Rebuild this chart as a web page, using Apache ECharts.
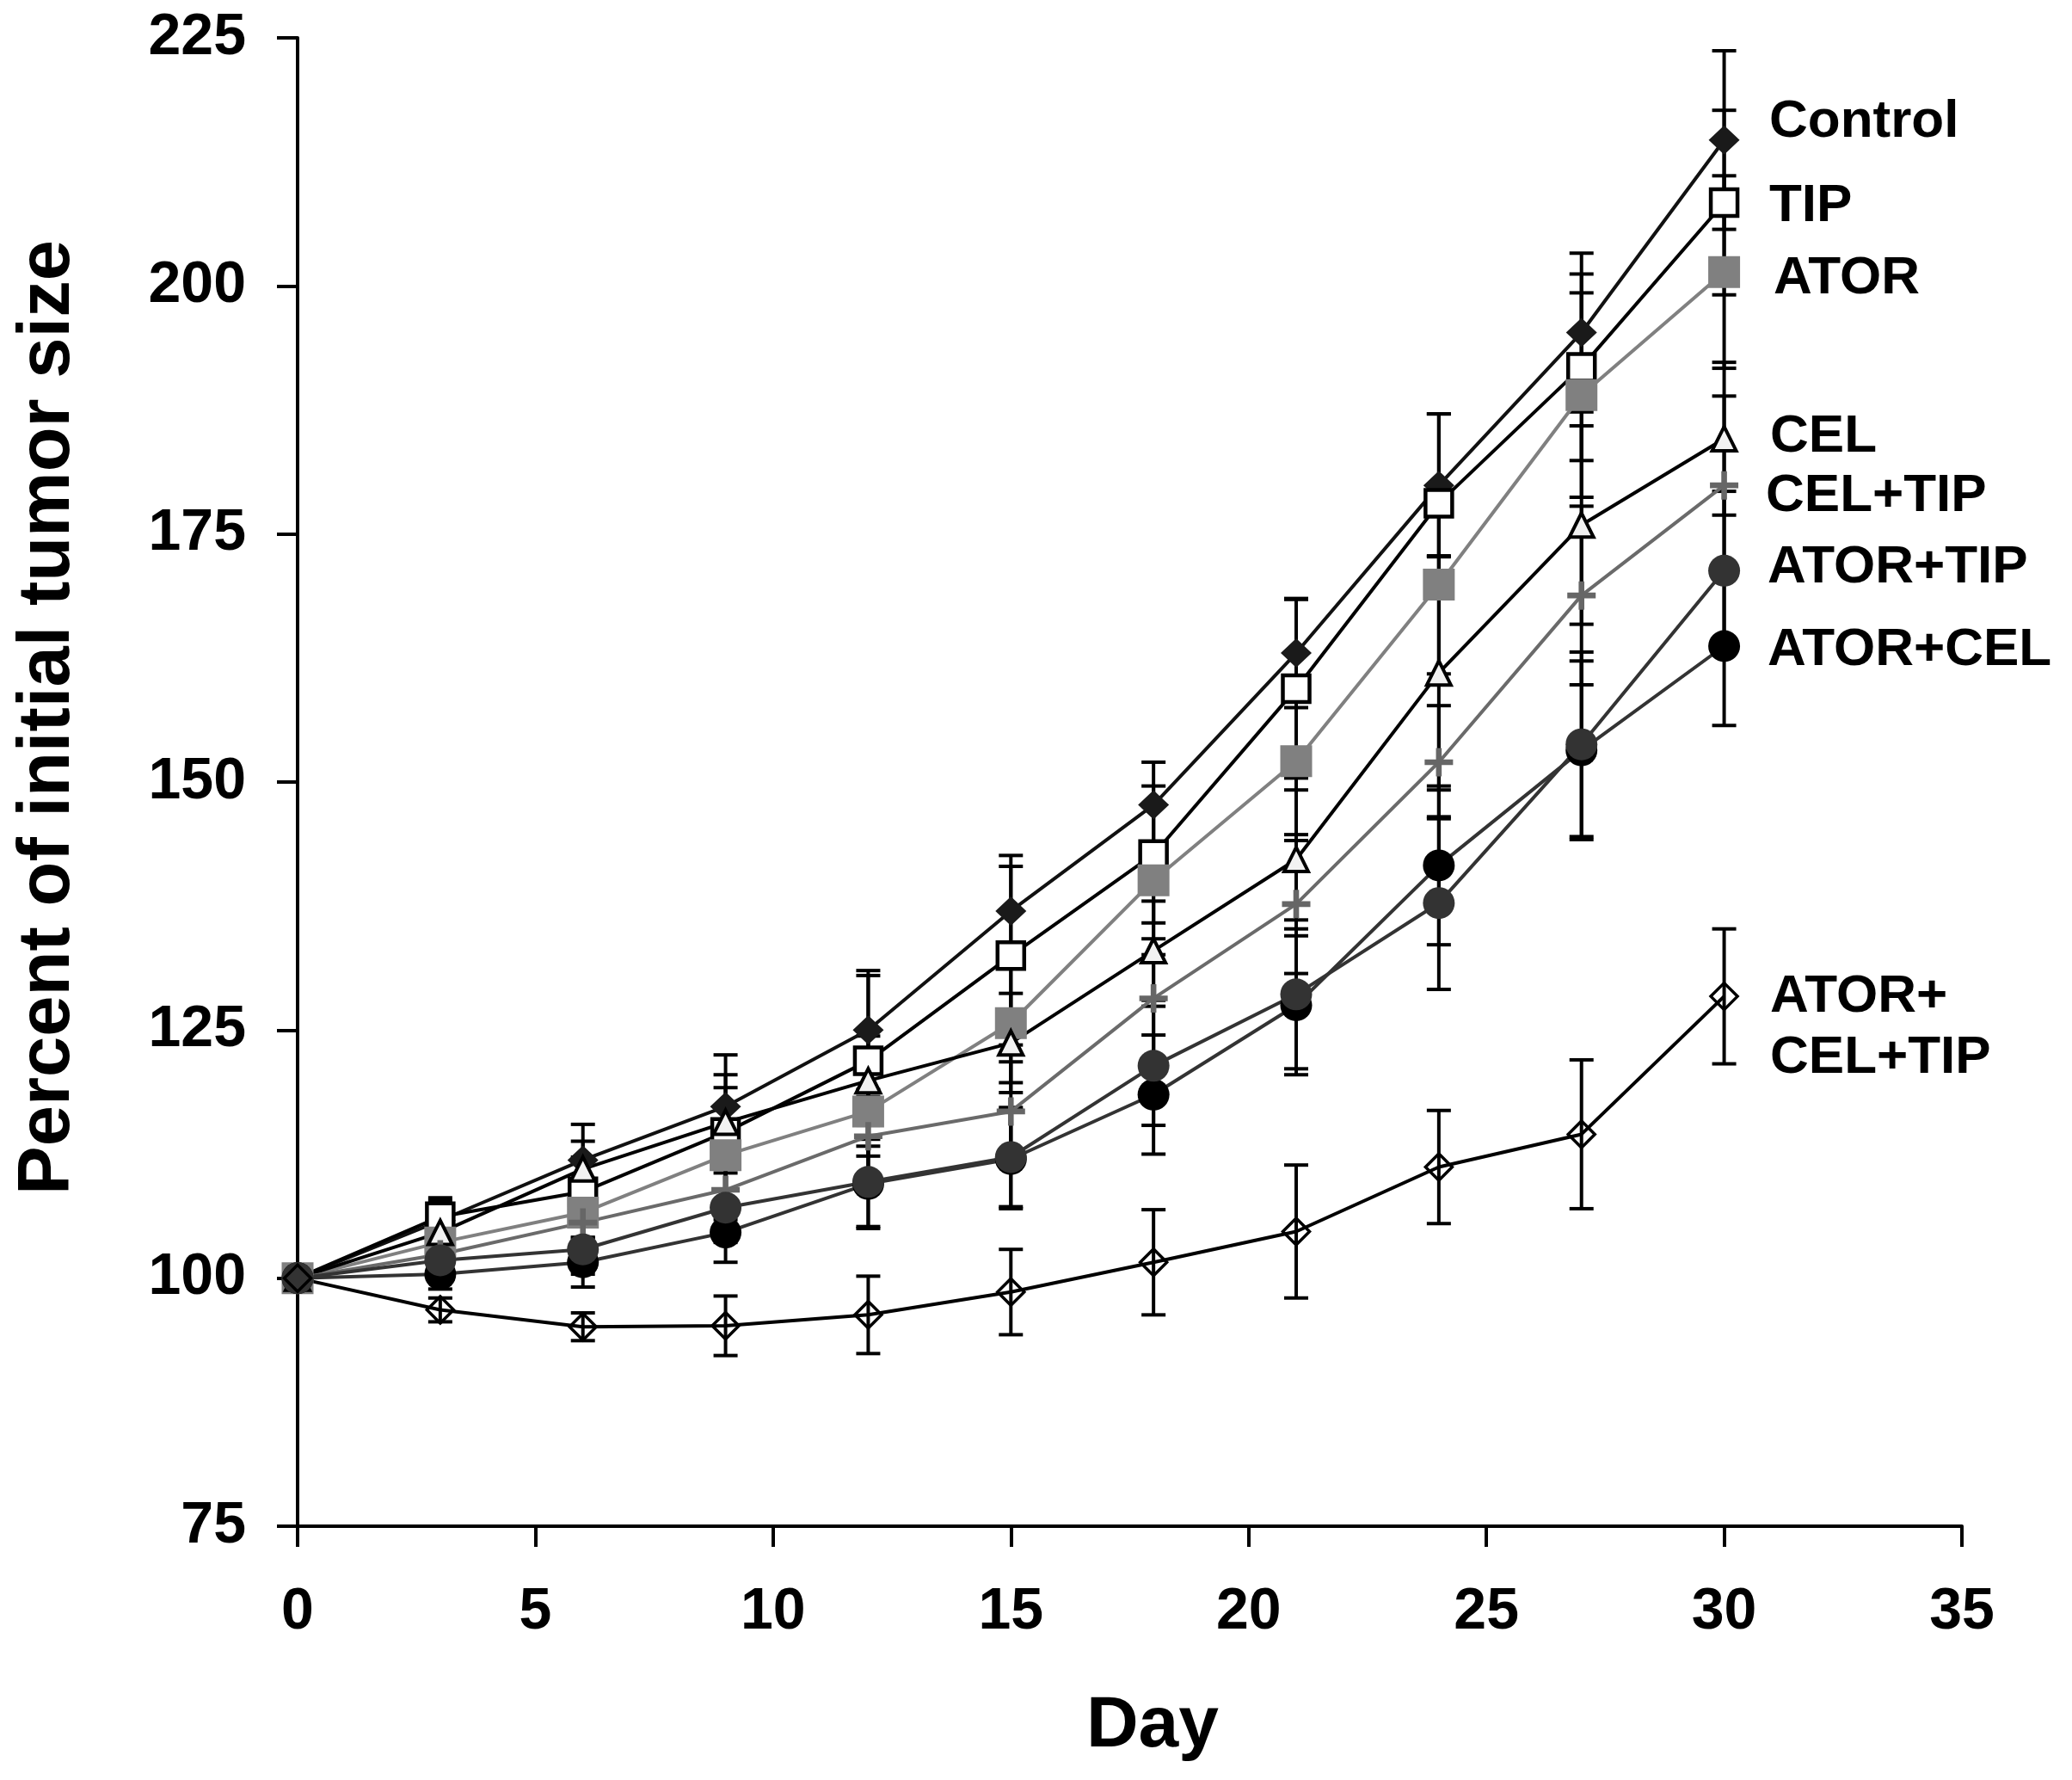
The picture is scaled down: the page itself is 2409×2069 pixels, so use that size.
<!DOCTYPE html>
<html>
<head>
<meta charset="utf-8">
<script src="https://cdn.jsdelivr.net/npm/echarts@6/dist/echarts.min.js"></script>
<style>
  html, body { margin: 0; padding: 0; background: #fff; }
  #chart { width: 2409px; height: 2069px; }
</style>
</head>
<body>
<div id="chart"></div>
<script>
// ---- data ----
const days = [0, 3, 6, 9, 12, 15, 18, 21, 24, 27, 30];
const xTicks = [0, 5, 10, 15, 20, 25, 30, 35];
const yTicks = [75, 100, 125, 150, 175, 200, 225];

const control    = [100, 105.8, 111.9, 117.3, 125.0, 137.0, 147.7, 163.0, 179.9, 195.3, 214.7];
const tip        = [100, 106.2, 108.7, 114.7, 121.9, 132.5, 142.7, 159.4, 178.1, 191.8, 208.4];
const ator       = [100, 103.6, 106.6, 112.4, 116.8, 125.7, 140.1, 152.1, 169.9, 189.0, 201.4];
const cel        = [100, 104.6, 111.0, 115.7, 119.9, 123.7, 133.0, 142.2, 161.0, 175.9, 184.6];
const celTip     = [100, 102.4, 105.6, 108.9, 114.3, 116.8, 128.2, 137.7, 152.0, 168.8, 179.9];
const atorTip    = [100, 101.8, 102.9, 107.1, 109.7, 112.2, 121.4, 128.6, 137.8, 153.8, 171.3];
const atorCel    = [100, 100.4, 101.6, 104.6, 109.5, 112.0, 118.5, 127.5, 141.6, 153.2, 163.7];
const atorCelTip = [100, 96.8, 95.1, 95.2, 96.3, 98.6, 101.6, 104.7, 111.2, 114.5, 128.4];

const controlErr    = [0, 2.3, 3.6, 5.2, 6.0, 5.6, 4.3, 5.5, 7.2, 8.0, 9.0];
const tipErr        = [0, 1.6, 3.5, 5.8, 8.6, 9.0, 6.9, 9.0, 9.0, 9.4, 9.3];
const atorErr       = [0, 1.5, 2.5, 3.5, 4.5, 6.0, 7.5, 8.0, 9.0, 10.3, 9.7];
const celErr        = [0, 1.5, 2.8, 3.5, 4.5, 5.0, 5.0, 7.0, 11.8, 10.0, 7.7];
const celTipErr     = [0, 1.5, 2.5, 3.0, 4.0, 5.0, 6.0, 7.0, 5.7, 9.0, 9.0];
const atorTipErr    = [0, 1.5, 2.5, 3.5, 4.5, 5.0, 6.0, 7.5, 8.7, 9.3, 8.0];
const atorCelErr    = [0, 1.5, 2.5, 3.0, 4.5, 5.0, 6.0, 7.0, 8.0, 9.0, 8.0];
const atorCelTipErr = [0, 1.2, 1.4, 3.0, 3.9, 4.3, 5.3, 6.7, 5.7, 7.5, 6.8];

const seriesNames = ['Control', 'TIP', 'ATOR', 'CEL', 'CEL+TIP', 'ATOR+CEL', 'ATOR+TIP', 'ATOR+CEL+TIP'];
const seriesValues = [control, tip, ator, cel, celTip, atorCel, atorTip, atorCelTip];
const seriesErrs = [controlErr, tipErr, atorErr, celErr, celTipErr, atorCelErr, atorTipErr, atorCelTipErr];

// ---- styles ----
const FONT = 'Liberation Sans';
const plusPath = 'path://M4,0H6V4H10V6H6V10H4V6H0V4H4Z';
const styles = {
  'Control':      { line: '#111111', symbol: 'diamond', size: [36, 34], fill: '#1a1a1a', border: '#1a1a1a', bw: 0 },
  'TIP':          { line: '#000000', symbol: 'rect', size: 31, fill: '#ffffff', border: '#000000', bw: 4.5 },
  'ATOR':         { line: '#808080', symbol: 'rect', size: 37, fill: '#808080', border: '#808080', bw: 0 },
  'CEL':          { line: '#000000', symbol: 'triangle', size: [28, 28], fill: '#f2f2f2', border: '#000000', bw: 4 },
  'CEL+TIP':      { line: '#6a6a6a', symbol: plusPath, size: 33, fill: '#666666', border: '#666666', bw: 0 },
  'ATOR+CEL':     { line: '#333333', symbol: 'circle', size: 37, fill: '#000000', border: '#000000', bw: 0 },
  'ATOR+TIP':     { line: '#333333', symbol: 'circle', size: 37, fill: '#333333', border: '#333333', bw: 0 },
  'ATOR+CEL+TIP': { line: '#000000', symbol: 'diamond', size: [31, 31], fill: 'rgba(255,255,255,0)', border: '#000000', bw: 3.5 }
};

// error bar data [day, low, high]
const errData = [];
seriesValues.forEach(function (vals, si) {
  vals.forEach(function (v, i) {
    const e = seriesErrs[si][i];
    if (e > 0) errData.push([days[i], v - e, v + e]);
  });
});

const chart = echarts.init(document.getElementById('chart'), null, { renderer: 'canvas' });

const lineSeries = seriesNames.map(function (name, si) {
  const st = styles[name];
  return {
    name: name,
    type: 'line',
    z: 3,
    data: days.map(function (d, i) { return [d, seriesValues[si][i]]; }),
    symbol: st.symbol,
    symbolSize: st.size,
    showAllSymbol: true,
    lineStyle: { color: st.line, width: 4 },
    itemStyle: { color: st.fill, borderColor: st.border, borderWidth: st.bw, opacity: 1 },
    emphasis: { disabled: true },
    animation: false
  };
});

const errSeries = {
  type: 'custom',
  name: 'error',
  z: 2,
  data: errData,
  renderItem: function (params, api) {
    const x = api.value(0);
    const top = api.coord([x, api.value(2)]);
    const bot = api.coord([x, api.value(1)]);
    const hw = 14;
    const st = { stroke: '#000', lineWidth: 4 };
    return {
      type: 'group',
      children: [
        { type: 'line', shape: { x1: top[0], y1: top[1], x2: bot[0], y2: bot[1] }, style: st },
        { type: 'line', shape: { x1: top[0] - hw, y1: top[1], x2: top[0] + hw, y2: top[1] }, style: st },
        { type: 'line', shape: { x1: bot[0] - hw, y1: bot[1], x2: bot[0] + hw, y2: bot[1] }, style: st }
      ]
    };
  },
  animation: false,
  silent: true
};

function label(text, x, y, extra) {
  const s = { text: text, x: 0, y: 0, fill: '#000', fontSize: 62, fontWeight: 'bold', fontFamily: FONT, align: 'left', verticalAlign: 'middle' };
  if (extra) Object.assign(s, extra);
  return { type: 'text', x: x, y: y, style: s, silent: true };
}

const option = {
  backgroundColor: '#ffffff',
  animation: false,
  grid: { left: 346, top: 44, width: 1935, height: 1730, outerBoundsMode: 'none', containLabel: false },
  xAxis: {
    type: 'value',
    min: xTicks[0],
    max: xTicks[xTicks.length - 1],
    interval: 5,
    axisLine: { onZero: false, lineStyle: { color: '#000', width: 4 } },
    axisTick: { show: true, inside: false, length: 24, lineStyle: { color: '#000', width: 4 } },
    axisLabel: { color: '#000', fontSize: 68, fontWeight: 'bold', fontFamily: FONT, margin: 66 },
    splitLine: { show: false }
  },
  yAxis: {
    type: 'value',
    min: yTicks[0],
    max: yTicks[yTicks.length - 1],
    interval: 25,
    axisLine: { show: true, onZero: false, lineStyle: { color: '#000', width: 4 } },
    axisTick: { show: true, inside: false, length: 24, lineStyle: { color: '#000', width: 4 } },
    axisLabel: { color: '#000', fontSize: 68, fontWeight: 'bold', fontFamily: FONT, margin: 60 },
    splitLine: { show: false }
  },
  graphic: [
    label('Percent of initial tumor size', 57, 834, { fontSize: 85, align: 'center' }),
    Object.assign({}, label('', 0, 0)),
    label('Day', 1340, 2007, { fontSize: 84, align: 'center' }),
    label('Control', 2057, 142),
    label('TIP', 2057, 240),
    label('ATOR', 2062, 324),
    label('CEL', 2058, 508),
    label('CEL+TIP', 2053, 577),
    label('ATOR+TIP', 2055, 660),
    label('ATOR+CEL', 2055, 756),
    label('ATOR+\nCEL+TIP', 2058, 1194, { lineHeight: 71 })
  ],
  series: [errSeries].concat(lineSeries)
};
// rotate y-axis title
option.graphic[0].rotation = Math.PI / 2;
option.graphic.splice(1, 1);

chart.setOption(option);
</script>
</body>
</html>
